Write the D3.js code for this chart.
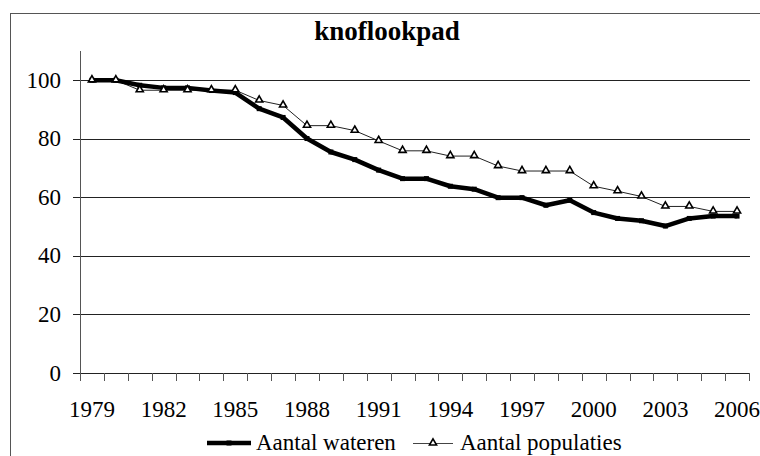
<!DOCTYPE html>
<html>
<head>
<meta charset="utf-8">
<script src="https://cdn.jsdelivr.net/npm/d3@7"></script>
<style>
  body { margin: 0; background: #fff; }
</style>
</head>
<body>
<div id="chart"></div>
<script>
// categories + series
const years = [1979, 1980, 1981, 1982, 1983, 1984, 1985, 1986, 1987, 1988,
  1989, 1990, 1991, 1992, 1993, 1994, 1995, 1996, 1997, 1998,
  1999, 2000, 2001, 2002, 2003, 2004, 2005, 2006];
const wateren = [100, 100, 98.3, 97.4, 97.4, 96.5, 95.8, 90.3, 87.3, 80.1,
  75.5, 72.9, 69.3, 66.4, 66.4, 63.8, 62.8, 59.9, 59.9, 57.3,
  59.0, 54.8, 52.8, 52.0, 50.2, 52.8, 53.6, 53.6];
const populaties = [100, 100, 96.6, 96.6, 96.6, 96.6, 96.6, 93.1, 91.4, 84.5,
  84.5, 82.8, 79.3, 75.9, 75.9, 74.1, 74.1, 70.7, 69.0, 69.0,
  69.0, 63.8, 62.1, 60.3, 56.9, 56.9, 55.2, 55.2];
const yTicks = [0, 20, 40, 60, 80, 100];
const xLabels = [1979, 1982, 1985, 1988, 1991, 1994, 1997, 2000, 2003, 2006];
const seriesNames = ["Aantal wateren", "Aantal populaties"];

const width = 760, height = 456;
const plot = { left: 80, right: 749, top: 51, bottom: 373 };
const serif = "'Liberation Serif'";
const labelSize = "23px";

const svg = d3.select("#chart").append("svg")
  .attr("width", width)
  .attr("height", height);

// outer chart border (runs off the right/bottom edge)
svg.append("rect")
  .attr("x", 10.5).attr("y", 13.5)
  .attr("width", 800).attr("height", 500)
  .attr("fill", "#fff")
  .attr("stroke", "#555")
  .attr("stroke-width", 1);

const x = d3.scaleBand()
  .domain(years)
  .range([plot.left, plot.right])
  .padding(0);

const y = d3.scaleLinear()
  .domain([0, 110])
  .range([plot.bottom, plot.top]);

const cx = d => x(d) + x.bandwidth() / 2;

// gridlines
svg.append("g")
  .selectAll("line")
  .data(yTicks.filter(d => d > 0))
  .join("line")
  .attr("x1", plot.left).attr("x2", plot.right + 1)
  .attr("y1", d => Math.round(y(d)) + 0.5)
  .attr("y2", d => Math.round(y(d)) + 0.5)
  .attr("stroke", "#222")
  .attr("stroke-width", 1);

// y axis
const yAxis = svg.append("g").attr("class", "y axis");
yAxis.append("line")
  .attr("x1", plot.left + 0.5).attr("x2", plot.left + 0.5)
  .attr("y1", plot.top).attr("y2", plot.bottom)
  .attr("stroke", "#555");
yAxis.selectAll(".tick")
  .data(yTicks)
  .join("line")
  .attr("class", "tick")
  .attr("x1", plot.left - 7).attr("x2", plot.left)
  .attr("y1", d => Math.round(y(d)) + 0.5)
  .attr("y2", d => Math.round(y(d)) + 0.5)
  .attr("stroke", "#222");
yAxis.selectAll("text")
  .data(yTicks)
  .join("text")
  .attr("x", 61)
  .attr("y", d => y(d))
  .attr("dy", "0.33em")
  .attr("text-anchor", "end")
  .style("font-family", serif)
  .style("font-size", labelSize)
  .text(d => d);

// x axis: tick marks between categories
const bounds = years.map(d => x(d)).concat([x.range()[1]]);
const xAxis = svg.append("g").attr("class", "x axis");
xAxis.append("line")
  .attr("x1", plot.left).attr("x2", plot.right + 1)
  .attr("y1", plot.bottom + 0.5).attr("y2", plot.bottom + 0.5)
  .attr("stroke", "#222");
xAxis.selectAll(".tick")
  .data(bounds)
  .join("line")
  .attr("class", "tick")
  .attr("x1", d => Math.round(d) + 0.5).attr("x2", d => Math.round(d) + 0.5)
  .attr("y1", plot.bottom).attr("y2", plot.bottom + 8)
  .attr("stroke", "#555");
xAxis.selectAll("text")
  .data(xLabels)
  .join("text")
  .attr("x", d => cx(d))
  .attr("y", 417)
  .attr("text-anchor", "middle")
  .style("font-family", serif)
  .style("font-size", labelSize)
  .text(d => d);

// lines
const line = d3.line()
  .x((d, i) => cx(years[i]))
  .y(d => y(d));

svg.append("path")
  .datum(populaties)
  .attr("fill", "none")
  .attr("stroke", "#222")
  .attr("stroke-width", 1)
  .attr("d", line);

svg.append("path")
  .datum(wateren)
  .attr("fill", "none")
  .attr("stroke", "#000")
  .attr("stroke-width", 4.5)
  .attr("stroke-linejoin", "round")
  .attr("d", line);

svg.append("g")
  .selectAll("rect")
  .data(wateren)
  .join("rect")
  .attr("x", (d, i) => cx(years[i]) - 2.5)
  .attr("y", d => y(d) - 2.5)
  .attr("width", 5).attr("height", 5)
  .attr("fill", "#000");

const tri = d3.symbol().type(d3.symbolTriangle).size(22);
svg.append("g")
  .selectAll("path")
  .data(populaties)
  .join("path")
  .attr("transform", (d, i) => `translate(${cx(years[i])},${y(d) - 0.5})`)
  .attr("d", tri)
  .attr("fill", "#fff")
  .attr("stroke", "#000")
  .attr("stroke-width", 1.6);

// title
svg.append("text")
  .attr("x", 387)
  .attr("y", 40)
  .attr("text-anchor", "middle")
  .style("font-family", serif)
  .style("font-size", "27px")
  .style("font-weight", "bold")
  .text("knoflookpad");

// legend
const legend = svg.append("g").attr("class", "legend");
legend.append("line")
  .attr("x1", 207).attr("x2", 251).attr("y1", 443).attr("y2", 443)
  .attr("stroke", "#000").attr("stroke-width", 4.5);
legend.append("rect")
  .attr("x", 226.5).attr("y", 440.5).attr("width", 5).attr("height", 5)
  .attr("fill", "#000");
legend.append("text")
  .attr("x", 256).attr("y", 450)
  .style("font-family", serif)
  .style("font-size", labelSize)
  .text(seriesNames[0]);

legend.append("line")
  .attr("x1", 413).attr("x2", 453).attr("y1", 443.5).attr("y2", 443.5)
  .attr("stroke", "#444").attr("stroke-width", 1);
legend.append("path")
  .attr("transform", "translate(433,443)")
  .attr("d", tri)
  .attr("fill", "#fff")
  .attr("stroke", "#000")
  .attr("stroke-width", 1.6);
legend.append("text")
  .attr("x", 460).attr("y", 450)
  .style("font-family", serif)
  .style("font-size", labelSize)
  .text(seriesNames[1]);
</script>
</body>
</html>
